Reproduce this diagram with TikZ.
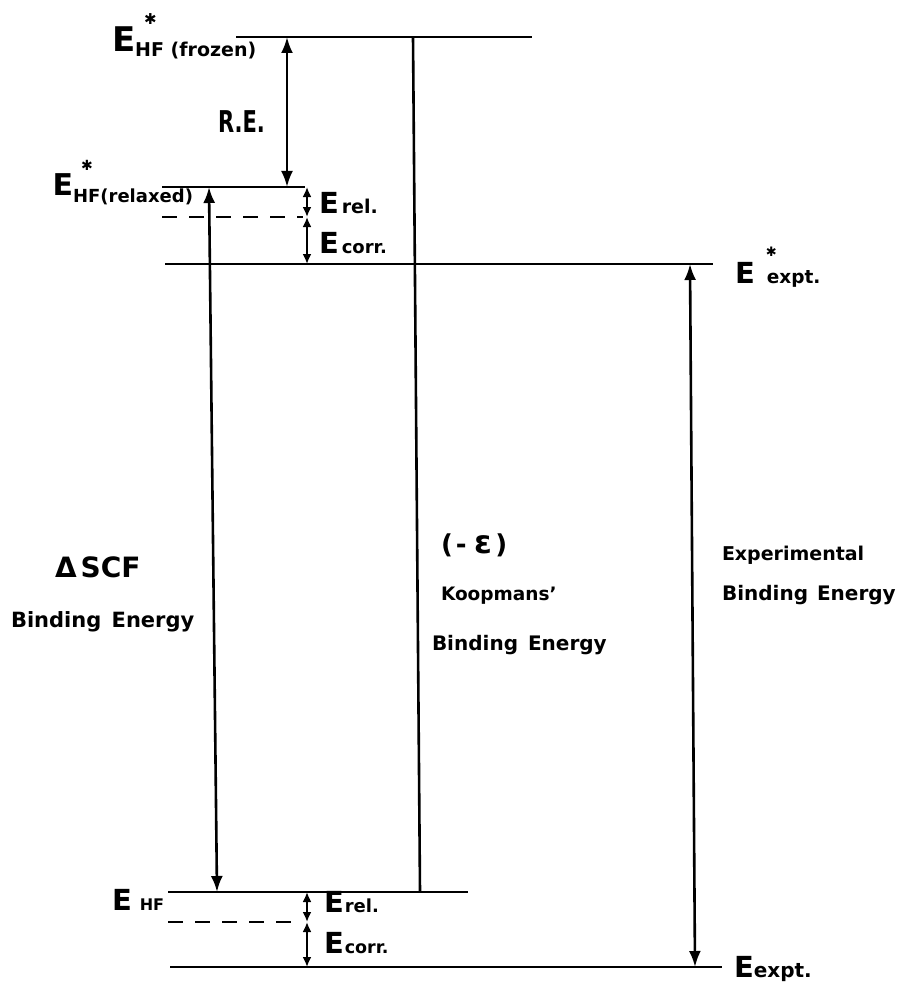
\documentclass[tikz,border=0pt]{standalone}
\usepackage{fontspec}
\setmainfont{DejaVu Sans}
\usetikzlibrary{arrows.meta}
\newcommand\Estar[3]{\rlap{\hspace{#1}\raisebox{#2}{\fontsize{#3}{#3}\selectfont ✱}}}
\begin{document}
\begin{tikzpicture}[x=1pt,y=-1pt,
  lvl/.style={line width=2.6pt},
  dsh/.style={line width=2.6pt, dash pattern=on 15pt off 12pt},
  dbl/.style={line width=2.6pt, {Latex[length=16pt,width=12pt]}-{Latex[length=16pt,width=12pt]}},
  sdbl/.style={line width=2.6pt, {Latex[length=10pt,width=9pt]}-{Latex[length=10pt,width=9pt]}},
  lab/.style={inner sep=0pt, outer sep=0pt, anchor=base west, font=\bfseries},
]
\useasboundingbox (0,0) rectangle (899,987);
% level end points
\coordinate (fzL) at (236,37);  \coordinate (fzR) at (532,37);
\coordinate (rxL) at (162,187); \coordinate (rxR) at (305,187);
\coordinate (rdL) at (162,217); \coordinate (rdR) at (303,217);
\coordinate (xsL) at (165,264); \coordinate (xsR) at (713,264);
\coordinate (hfL) at (168,892); \coordinate (hfR) at (468,892);
\coordinate (hdL) at (168,922); \coordinate (hdR) at (300,922);
\coordinate (exL) at (170,967); \coordinate (exR) at (722,967);
% vertical end points
\coordinate (reT) at (287,37);  \coordinate (reB) at (287,187);
\coordinate (u1) at (307,187);  \coordinate (u2) at (307,217); \coordinate (u3) at (307,264);
\coordinate (scT) at (209,187); \coordinate (scB) at (217,892);
\coordinate (kT) at (413,37);   \coordinate (kB) at (420,892);
\coordinate (xT) at (690,264);  \coordinate (xB) at (695,967);
\coordinate (d1) at (307,892);  \coordinate (d2) at (307,922); \coordinate (d3) at (307,967);

\draw[lvl] (fzL) -- (fzR);
\draw[lvl] (rxL) -- (rxR);
\draw[dsh] (rdL) -- (rdR);
\draw[lvl] (xsL) -- (xsR);
\draw[lvl] (hfL) -- (hfR);
\draw[dsh] (hdL) -- (hdR);
\draw[lvl] (exL) -- (exR);

\draw[dbl] (reT) -- (reB);
\draw[sdbl] (u1) -- (u2);
\draw[sdbl] (u2) -- (u3);
\draw[dbl] (scT) -- (scB);
\draw[lvl] (kT) -- (kB);
\draw[dbl] (xT) -- (xB);
\draw[sdbl] (d1) -- (d2);
\draw[sdbl] (d2) -- (d3);

% labels
\node[lab] (lfz) at (112,52) {\fontsize{34}{34}\selectfont E\Estar{9pt}{27pt}{15}\raisebox{-5pt}{\fontsize{19}{19}\selectfont HF (frozen)}};
\node[lab, anchor=base east] (lrx) at (193,196) {\fontsize{30}{30}\selectfont E\Estar{8pt}{25pt}{14}\raisebox{-6pt}{\fontsize{18}{18}\selectfont HF(relaxed)}};
\node[lab] (lre) at (218,133) {\scalebox{0.7}[1]{\fontsize{30}{30}\selectfont R.E.}};
\node[lab] (lur) at (319,213) {\fontsize{29}{29}\selectfont E\hspace{3pt}{\fontsize{19}{19}\selectfont rel.}};
\node[lab] (luc) at (319,253) {\fontsize{29}{29}\selectfont E\hspace{3pt}{\fontsize{18}{18}\selectfont corr.}};
\node[lab] (lxs) at (735,283) {\fontsize{29}{29}\selectfont E\Estar{11pt}{27pt}{13}\hspace{12pt}{\fontsize{18.5}{18.5}\selectfont expt.}};

\node[lab] (lhf) at (112,910) {\fontsize{29}{29}\selectfont E\hspace{8pt}{\fontsize{16}{16}\selectfont HF}};
\node[lab] (ldr) at (324,912) {\fontsize{29}{29}\selectfont E\hspace{1pt}{\fontsize{18}{18}\selectfont rel.}};
\node[lab] (ldc) at (324,953) {\fontsize{29}{29}\selectfont E\hspace{1pt}{\fontsize{17.5}{17.5}\selectfont corr.}};
\node[lab] (lex) at (734,977) {\fontsize{29}{29}\selectfont E\hspace{0pt}{\fontsize{20}{20}\selectfont expt.}};

\node[lab] (lsc) at (55,577) {\fontsize{28}{28}\selectfont Δ\hspace{4pt}SCF};
\node[lab] (lsb) at (11,627) {\fontsize{21}{21}\selectfont Binding\hspace{3pt} Energy};
\node[lab] (lke) at (441,553) {\fontsize{26}{26}\selectfont (\hspace{3pt}-\hspace{8pt}{\fontsize{32}{32}\selectfont ε}\hspace{3pt})};
\node[lab] (lkk) at (441,600) {\fontsize{18.5}{18.5}\selectfont Koopmans'};
\node[lab] (lkb) at (432,650) {\fontsize{20}{20}\selectfont Binding\hspace{3pt} Energy};
\node[lab] (lxe) at (722,560) {\fontsize{19}{19}\selectfont Experimental};
\node[lab] (lxb) at (722,600) {\fontsize{20}{20}\selectfont Binding\hspace{2pt} Energy};
\end{tikzpicture}
\end{document}
